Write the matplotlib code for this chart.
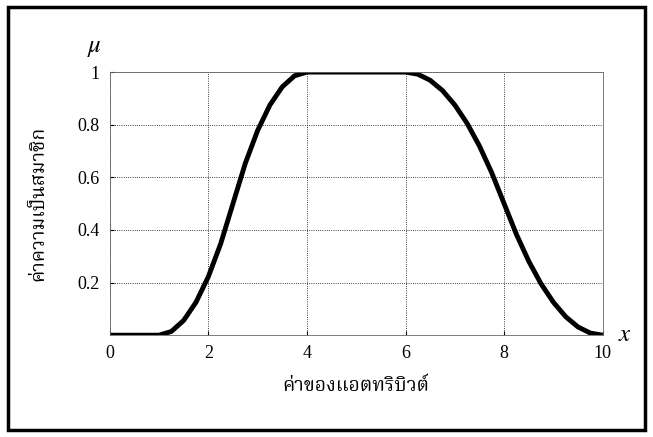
import matplotlib.pyplot as plt
from matplotlib.patches import Rectangle

x_vals = [0, 0.5, 1.0, 1.25, 1.5, 1.75, 2.0, 2.25, 2.5, 2.75, 3.0, 3.25, 3.5, 3.75, 4.0,
          5.0, 6.0, 6.25, 6.5, 6.75, 7.0, 7.25, 7.5, 7.75, 8.0, 8.25, 8.5, 8.75, 9.0,
          9.25, 9.5, 9.75, 10.0]
mu_vals = [0, 0, 0, 0.014, 0.056, 0.125, 0.222, 0.347, 0.5, 0.653, 0.778, 0.875, 0.944, 0.986, 1.0,
           1.0, 1.0, 0.992, 0.969, 0.930, 0.875, 0.805, 0.719, 0.617, 0.5, 0.383, 0.281, 0.195, 0.125,
           0.070, 0.031, 0.008, 0.0]
x_ticks = [0, 2, 4, 6, 8, 10]
y_ticks = [0.2, 0.4, 0.6, 0.8, 1]

plt.rcParams['font.family'] = ['Liberation Serif', 'Noto Serif Thai', 'DejaVu Sans']
plt.rcParams['mathtext.fontset'] = 'stix'

fig = plt.figure(figsize=(6.53, 4.37), dpi=100)
fig.patches.append(Rectangle((0.012, 0.015), 0.976, 0.97, transform=fig.transFigure,
                             fill=False, edgecolor='black', linewidth=2.5))
ax = fig.add_axes([0.168, 0.233, 0.755, 0.602])
ax.plot(x_vals, mu_vals, color='black', linewidth=3.5, solid_capstyle='butt')
ax.set_xlim(0, 10)
ax.set_ylim(0, 1)
ax.set_xticks(x_ticks)
ax.set_xticklabels([str(t) for t in x_ticks])
ax.set_yticks(y_ticks)
ax.set_yticklabels(['0.2', '0.4', '0.6', '0.8', '1'])
ax.tick_params(direction='in', labelsize=13, length=3, pad=7)
ax.grid(True, linestyle=':', color='black', linewidth=0.6)
for s in ax.spines.values():
    s.set_linewidth(0.6)
    s.set_color('#666666')
ax.set_xlabel('ค่าของแอตทริบิวต์', fontsize=14, labelpad=11)
ax.set_ylabel('ค่าความเป็นสมาชิก', fontsize=14, labelpad=22)
ax.text(-0.3, 1.05, r'$\mu$', fontsize=18, ha='center', va='bottom')
ax.text(10.3, 0.0, r'$x$', fontsize=18, ha='left', va='center')

fig.savefig('out.png', dpi=100)
